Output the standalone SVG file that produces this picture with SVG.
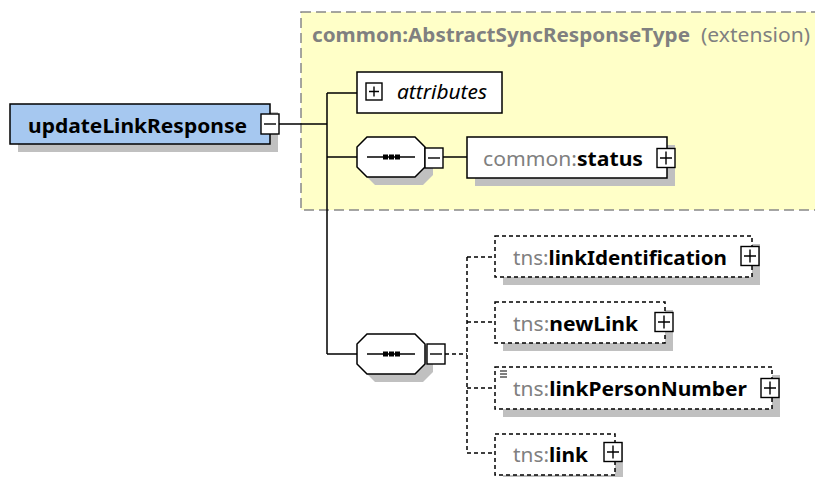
<svg xmlns="http://www.w3.org/2000/svg" width="815" height="477" viewBox="0 0 815 477">
<style>
.box{fill:#fff;stroke:#000;stroke-width:1.5}
.dbox{fill:#fff;stroke:#000;stroke-width:1.5;stroke-dasharray:4 3}
.sh{fill:#c0c0c0}
.ln{stroke:#000;stroke-width:1.5;fill:none}
.dln{stroke:#000;stroke-width:1.5;fill:none;stroke-dasharray:4 3}
.t{font-family:"Noto Sans","DejaVu Sans",sans-serif;font-size:19px}
.pre{fill:#808080}
.nm{fill:#000;font-weight:bold}
.ic{fill:#fff;stroke:#000;stroke-width:1.4}
</style>
<defs>
<g id="plusS"><rect class="ic" x="0" y="0" width="16" height="17"/><path d="M3 8.5h10M8 3.5v10" stroke="#000" stroke-width="1.4"/></g>
<g id="plus"><rect class="ic" x="-9" y="-9.5" width="18" height="19"/><path d="M-6 0h12M0 -6.5v13" stroke="#000" stroke-width="1.4"/></g>
<g id="minus"><rect class="ic" x="-9" y="-10" width="18" height="20"/><path d="M-6 0h12" stroke="#000" stroke-width="1.4"/></g>
<g id="seq">
<path class="sh" d="M18 8h48l10 10v20l-10 10h-48l-10-10v-20z"/>
<path class="box" d="M10 0h48l10 10v20l-10 10h-48l-10-10v-20z"/>
<path d="M10 20h48" stroke="#000" stroke-width="1.3"/>
<rect x="26" y="17.5" width="5" height="5"/><rect x="32" y="17.5" width="5" height="5"/><rect x="38" y="17.5" width="5" height="5"/>
</g>
</defs>

<g id="extension">
<rect x="301" y="12" width="530" height="198" fill="#ffffc8" stroke="#888" stroke-width="1.5" stroke-dasharray="10 5"/>
<text class="t" x="312" y="42" fill="#808080" font-size="18" font-weight="bold" textLength="378" lengthAdjust="spacingAndGlyphs">common:AbstractSyncResponseType</text>
<text class="t" x="701" y="42" fill="#808080" font-size="18" textLength="109" lengthAdjust="spacingAndGlyphs">(extension)</text>
</g>

<g id="connectors">
<path class="ln" d="M279 124H327M327 93V354M327 93H357M327 157H357M327 354H357"/>
<path class="ln" d="M443 157H467"/>
<path class="dln" d="M445 354H467M467 257V453M467 257H495M467 322H495M467 388H495M467 453H495"/>
</g>

<g id="updateLinkResponse">
<rect class="sh" x="18" y="112" width="260" height="40"/>
<rect x="10" y="104" width="260" height="40" fill="#a6c8f0" stroke="#000" stroke-width="1.5"/>
<text class="t nm" x="28" y="133" textLength="219" lengthAdjust="spacingAndGlyphs">updateLinkResponse</text>
<use href="#minus" x="270" y="124"/>
</g>

<g id="attributes">
<rect class="box" x="357" y="72" width="145" height="41"/>
<use href="#plusS" x="366" y="83"/>
<text class="t" x="397" y="99" font-style="italic" fill="#000" textLength="90" lengthAdjust="spacingAndGlyphs">attributes</text>
</g>

<g id="sequence1">
<use href="#seq" x="357" y="137"/>
<use href="#minus" x="434" y="158"/>
</g>

<g id="status">
<rect class="sh" x="475" y="145" width="200" height="41"/>
<rect class="box" x="467" y="137" width="200" height="41"/>
<text class="t" x="483" y="166" textLength="160" lengthAdjust="spacingAndGlyphs"><tspan class="pre">common:</tspan><tspan class="nm">status</tspan></text>
<use href="#plus" x="666" y="158"/>
</g>

<g id="sequence2">
<use href="#seq" x="357" y="334"/>
<use href="#minus" x="436" y="354"/>
</g>

<g id="linkIdentification">
<rect class="sh" x="503" y="244" width="257" height="41"/>
<rect class="dbox" x="495" y="236" width="257" height="41"/>
<text class="t" x="513" y="265" textLength="214" lengthAdjust="spacingAndGlyphs"><tspan class="pre">tns:</tspan><tspan class="nm">linkIdentification</tspan></text>
<use href="#plus" x="750" y="256"/>
</g>

<g id="newLink">
<rect class="sh" x="503" y="310" width="170" height="41"/>
<rect class="dbox" x="495" y="302" width="170" height="41"/>
<text class="t" x="513" y="331" textLength="125" lengthAdjust="spacingAndGlyphs"><tspan class="pre">tns:</tspan><tspan class="nm">newLink</tspan></text>
<use href="#plus" x="664" y="322"/>
</g>

<g id="linkPersonNumber">
<rect class="sh" x="503" y="375" width="277" height="42"/>
<rect class="dbox" x="495" y="367" width="277" height="42"/>
<path d="M500 371h7M500 374h7M500 377h7" stroke="#000" stroke-width="1"/>
<text class="t" x="513" y="396" textLength="234" lengthAdjust="spacingAndGlyphs"><tspan class="pre">tns:</tspan><tspan class="nm">linkPersonNumber</tspan></text>
<use href="#plus" x="770" y="388"/>
</g>

<g id="link">
<rect class="sh" x="503" y="442" width="120" height="41"/>
<rect class="dbox" x="495" y="434" width="120" height="41"/>
<text class="t" x="513" y="462" textLength="75" lengthAdjust="spacingAndGlyphs"><tspan class="pre">tns:</tspan><tspan class="nm">link</tspan></text>
<use href="#plus" x="613" y="452"/>
</g>
</svg>
